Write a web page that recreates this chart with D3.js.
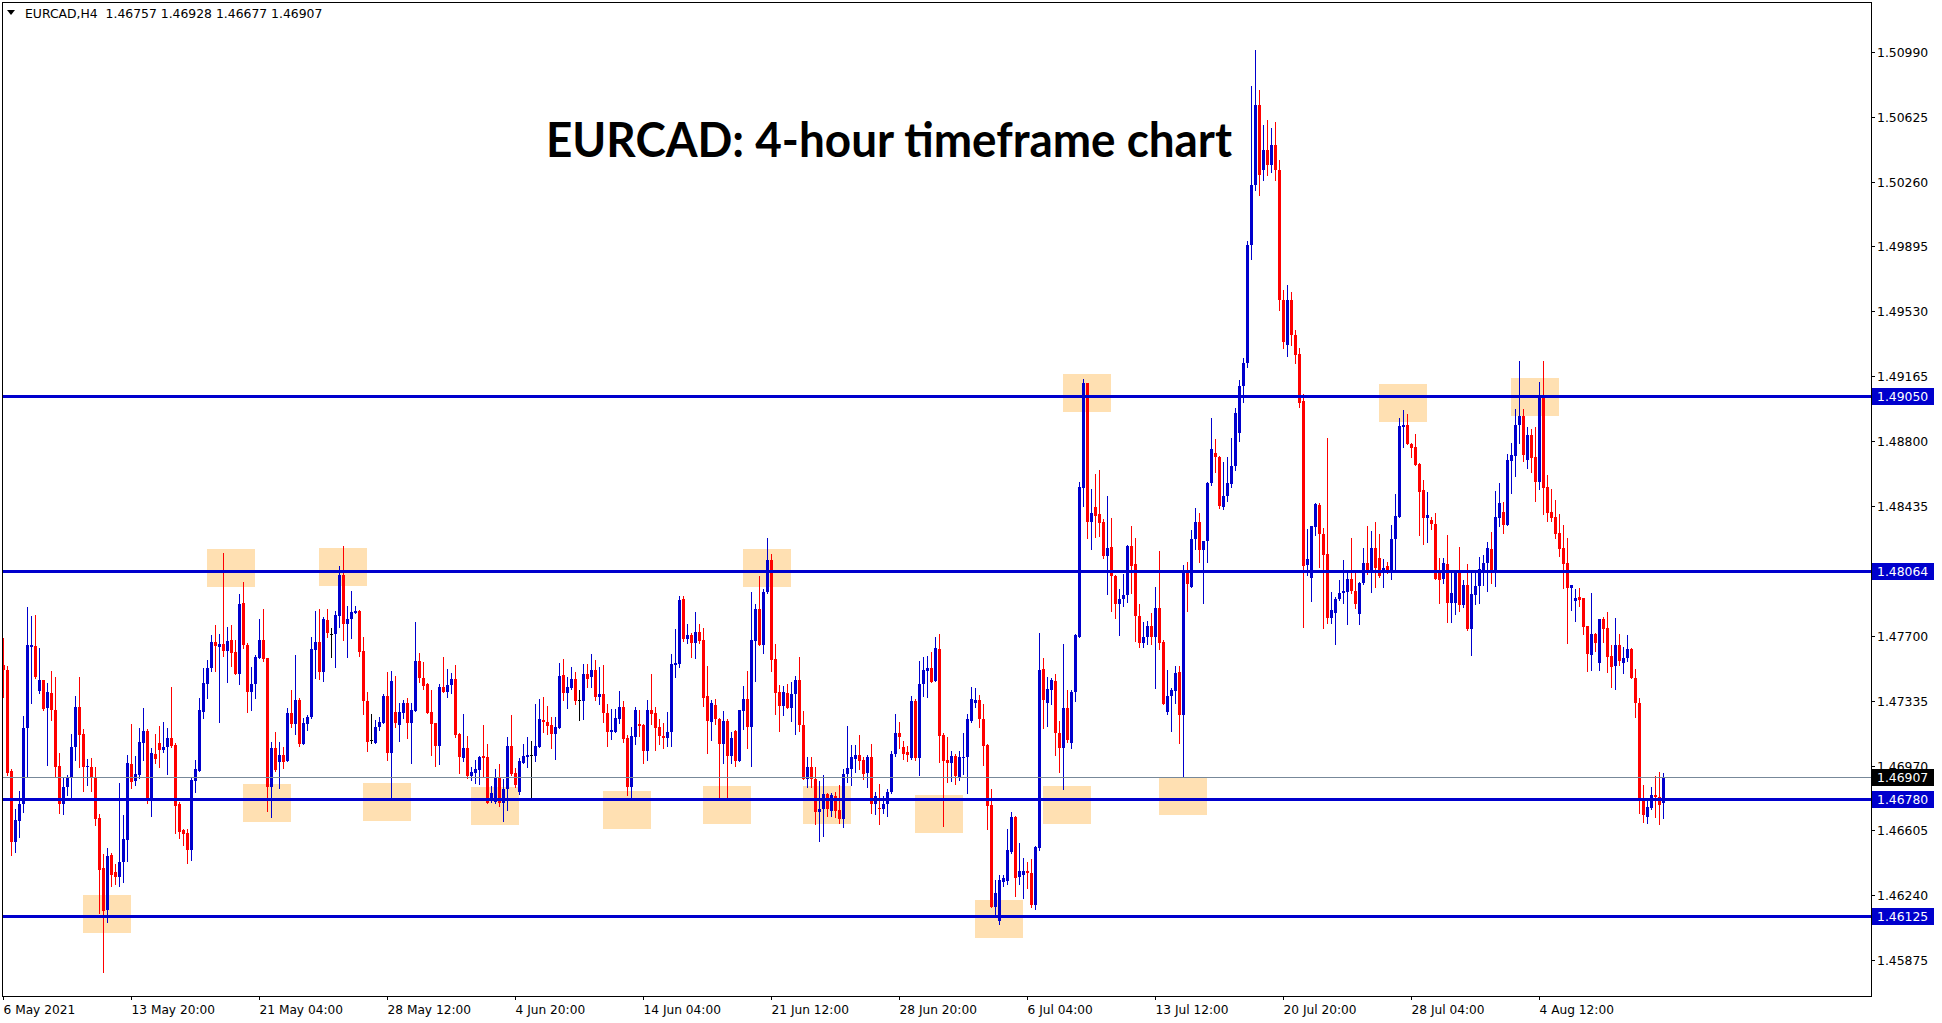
<!DOCTYPE html>
<html><head><meta charset="utf-8">
<script src="https://cdn.jsdelivr.net/npm/d3@7/dist/d3.min.js"></script>
<style>html,body{margin:0;padding:0;background:#fff;overflow:hidden}</style>
</head><body>
<svg id="chart" width="1942" height="1023"></svg>
<script>
// ---- DATA (EURCAD H4, 6 May 2021 12:00 onward) ----
const symbolInfo = "EURCAD,H4";
const lastBar = ["1.46757","1.46928","1.46677","1.46907"];
const titleText = "EURCAD: 4-hour timeframe chart";

const openP = [
1.47537,1.47508,1.46939,1.46541,1.46660,1.46753,1.47180,1.47636,1.47644,1.47390,
1.47452,1.47296,1.47379,1.47283,1.46968,1.46753,1.46847,1.46904,1.47073,1.47298,
1.47148,1.46960,1.46960,1.46898,1.46673,1.46391,1.46156,1.46466,1.46372,1.46344,
1.46429,1.46551,1.46977,1.46885,1.46917,1.47099,1.47163,1.46772,1.47035,1.47095,
1.47058,1.47073,1.47123,1.47086,1.46753,1.46607,1.46588,1.46494,1.46885,1.46941,
1.47274,1.47430,1.47518,1.47666,1.47640,1.47655,1.47617,1.47677,1.47612,1.47486,
1.47888,1.47649,1.47384,1.47430,1.47574,1.47677,1.47578,1.46851,1.47071,1.46992,
1.47030,1.46998,1.47268,1.47204,1.47339,1.47092,1.47204,1.47242,1.47621,1.47668,
1.47499,1.47790,1.47711,1.47711,1.47814,1.48044,1.47767,1.47794,1.47831,1.47841,
1.47615,1.47334,1.47114,1.47099,1.47185,1.47212,1.47364,1.47039,1.47274,1.47199,
1.47268,1.47321,1.47212,1.47279,1.47559,1.47465,1.47430,1.47274,1.47212,1.47082,
1.47413,1.47386,1.47424,1.47458,1.47148,1.47015,1.47067,1.46913,1.46930,1.46945,
1.47026,1.47020,1.46785,1.46763,1.46904,1.46757,1.46836,1.47080,1.46930,1.46823,
1.46986,1.47020,1.47030,1.47026,1.47076,1.47229,1.47215,1.47199,1.47148,1.47184,
1.47480,1.47377,1.47409,1.47458,1.47337,1.47336,1.47486,1.47467,1.47508,1.47358,
1.47373,1.47268,1.47161,1.47161,1.47232,1.47298,1.47127,1.46851,1.47132,1.47204,
1.47198,1.47054,1.47283,1.47268,1.47185,1.47136,1.47127,1.47157,1.47536,1.47542,
1.47908,1.47683,1.47705,1.47662,1.47720,1.47677,1.47362,1.47217,1.47311,1.47230,
1.47091,1.47221,1.47025,1.47164,1.46997,1.47279,1.47345,1.47185,1.47673,1.47855,
1.47649,1.47946,1.48128,1.47570,1.47382,1.47307,1.47377,1.47296,1.47373,1.47452,
1.47198,1.46892,1.46960,1.46892,1.46706,1.46723,1.46810,1.46716,1.46799,1.46720,
1.46669,1.46923,1.46951,1.47007,1.47030,1.47001,1.46926,1.47020,1.46752,1.46731,
1.46723,1.46752,1.46823,1.47035,1.47155,1.47076,1.47048,1.47015,1.47336,1.47015,
1.47428,1.47505,1.47522,1.47446,1.47627,1.47142,1.47001,1.46983,1.47024,1.46907,
1.47015,1.47016,1.47223,1.47324,1.47339,1.47232,1.47086,1.46748,1.46175,1.46096,
1.46316,1.46320,1.46485,1.46682,1.46340,1.46354,1.46376,1.46367,1.46185,1.46504,
1.47517,1.47320,1.47395,1.47449,1.47153,1.47072,1.47296,1.47099,1.47382,1.47697,
1.48533,1.49125,1.48344,1.48425,1.48387,1.48344,1.48150,1.48204,1.48037,1.47881,
1.47907,1.47929,1.48209,1.48104,1.47813,1.47660,1.47692,1.47759,1.47692,1.47859,
1.47665,1.47274,1.47363,1.47390,1.47495,1.47253,1.48069,1.47975,1.48244,1.48344,
1.48182,1.48236,1.48560,1.48729,1.48708,1.48425,1.48487,1.48554,1.48657,1.48845,
1.49107,1.49236,1.49903,1.50241,1.50691,1.50325,1.50438,1.50353,1.50466,1.50325,
1.49593,1.49339,1.49593,1.49396,1.49289,1.49024,1.48100,1.48025,1.48313,1.48438,
1.48275,1.48163,1.47804,1.47828,1.47907,1.47941,1.47950,1.48022,1.47954,1.47823,
1.48001,1.48110,1.48067,1.48196,1.48138,1.48067,1.48095,1.48072,1.48245,1.48373,
1.48880,1.48889,1.48782,1.48767,1.48671,1.48523,1.48367,1.48354,1.48332,1.48054,
1.48020,1.48106,1.47885,1.47885,1.48054,1.47875,1.47987,1.47739,1.47931,1.47982,
1.48072,1.48109,1.48190,1.48062,1.48367,1.48397,1.48325,1.48688,1.48716,1.48889,
1.48939,1.48691,1.48832,1.48706,1.48569,1.49043,1.48541,1.48397,1.48368,1.48282,
1.48198,1.48113,1.47972,1.47899,1.47921,1.47912,1.47756,1.47593,1.47711,1.47550,
1.47796,1.47743,1.47589,1.47533,1.47649,1.47550,1.47574,1.47627,1.47465,1.47324,
1.46772,1.46682,1.46729,1.46804,1.46791,1.46757];

const highP = [
1.47687,1.47531,1.46950,1.46723,1.46827,1.47249,1.47861,1.47813,1.47818,1.47634,
1.47455,1.47433,1.47503,1.47471,1.47039,1.46904,1.46917,1.47148,1.47362,1.47471,
1.47176,1.47005,1.47011,1.46960,1.46697,1.46472,1.46504,1.46476,1.46414,1.46870,
1.46692,1.47030,1.47204,1.47024,1.47180,1.47292,1.47178,1.47067,1.47146,1.47193,
1.47214,1.47184,1.47411,1.47095,1.46767,1.46611,1.46611,1.46904,1.47001,1.47349,
1.47521,1.47565,1.47705,1.47762,1.47711,1.48169,1.47752,1.47762,1.47677,1.47937,
1.48002,1.47658,1.47527,1.47593,1.47794,1.47852,1.47578,1.47101,1.47161,1.47101,
1.47076,1.47294,1.47396,1.47593,1.47352,1.47240,1.47255,1.47696,1.47841,1.47852,
1.47805,1.47850,1.47743,1.47841,1.48094,1.48207,1.47869,1.47953,1.47869,1.47846,
1.47696,1.47383,1.47260,1.47227,1.47245,1.47371,1.47495,1.47503,1.47476,1.47321,
1.47339,1.47353,1.47324,1.47777,1.47606,1.47555,1.47433,1.47396,1.47212,1.47430,
1.47582,1.47514,1.47490,1.47537,1.47155,1.47261,1.47138,1.46964,1.47001,1.47026,
1.47199,1.47092,1.46855,1.46949,1.46979,1.46892,1.47133,1.47255,1.46954,1.47011,
1.47090,1.47133,1.47110,1.47317,1.47343,1.47356,1.47306,1.47245,1.47242,1.47546,
1.47568,1.47471,1.47523,1.47495,1.47396,1.47542,1.47542,1.47598,1.47565,1.47523,
1.47537,1.47315,1.47289,1.47287,1.47390,1.47333,1.47142,1.47189,1.47298,1.47286,
1.47204,1.47339,1.47486,1.47298,1.47230,1.47211,1.47273,1.47598,1.47739,1.47925,
1.47925,1.47767,1.47715,1.47835,1.47767,1.47743,1.47532,1.47339,1.47345,1.47236,
1.47277,1.47230,1.47161,1.47170,1.47286,1.47418,1.47502,1.47949,1.47878,1.48038,
1.47964,1.48254,1.48162,1.47655,1.47424,1.47418,1.47427,1.47439,1.47476,1.47583,
1.47277,1.47020,1.47016,1.46963,1.46885,1.46917,1.46817,1.46817,1.46819,1.46861,
1.46949,1.47193,1.47086,1.47086,1.47142,1.47020,1.47030,1.47090,1.46823,1.46866,
1.46799,1.46838,1.47054,1.47261,1.47217,1.47110,1.47082,1.47362,1.47345,1.47559,
1.47583,1.47589,1.47608,1.47692,1.47711,1.47152,1.47133,1.47052,1.47035,1.47054,
1.47155,1.47261,1.47414,1.47409,1.47368,1.47317,1.47092,1.46838,1.46325,1.46354,
1.46354,1.46611,1.46707,1.46688,1.46532,1.46451,1.46425,1.46442,1.46519,1.47715,
1.47579,1.47471,1.47463,1.47484,1.47220,1.47657,1.47395,1.47395,1.47713,1.48568,
1.49147,1.49125,1.48527,1.48613,1.48635,1.48360,1.48487,1.48366,1.48042,1.47967,
1.48048,1.48212,1.48320,1.48250,1.47881,1.47778,1.47786,1.47832,1.47975,1.48177,
1.47678,1.47509,1.47409,1.47530,1.47530,1.48101,1.48118,1.48298,1.48419,1.48392,
1.48236,1.48568,1.48931,1.48810,1.48716,1.48681,1.48710,1.48818,1.48985,1.49142,
1.49268,1.49923,1.50798,1.51001,1.50776,1.50579,1.50607,1.50562,1.50596,1.50382,
1.49649,1.49677,1.49638,1.49424,1.49323,1.49063,1.48301,1.48320,1.48452,1.48448,
1.48307,1.48818,1.47950,1.47922,1.48016,1.48129,1.48072,1.48255,1.48054,1.48007,
1.48198,1.48320,1.48292,1.48345,1.48275,1.48134,1.48119,1.48326,1.48501,1.48927,
1.48974,1.48951,1.48786,1.48837,1.48677,1.48579,1.48514,1.48369,1.48395,1.48138,
1.48138,1.48270,1.48054,1.48072,1.48200,1.48015,1.48106,1.48057,1.48072,1.48147,
1.48156,1.48228,1.48288,1.48517,1.48560,1.48453,1.48723,1.48785,1.48977,1.49249,
1.48977,1.48875,1.48866,1.48875,1.49129,1.49249,1.48607,1.48526,1.48466,1.48387,
1.48325,1.48250,1.47987,1.47963,1.47972,1.47912,1.47756,1.47940,1.47719,1.47796,
1.47809,1.47837,1.47649,1.47799,1.47711,1.47640,1.47706,1.47634,1.47514,1.47353,
1.46861,1.46776,1.46847,1.46911,1.46932,1.46928];

const lowP = [
1.47358,1.46917,1.46466,1.46485,1.46566,1.46710,1.46904,1.47324,1.47461,1.47377,
1.47283,1.46973,1.47227,1.46907,1.46705,1.46697,1.46804,1.46780,1.47001,1.46964,
1.46827,1.46861,1.46829,1.46635,1.46138,1.45809,1.46091,1.46292,1.46303,1.46292,
1.46316,1.46432,1.46842,1.46861,1.46898,1.47001,1.46757,1.46686,1.46983,1.46964,
1.47048,1.46923,1.47073,1.46592,1.46560,1.46523,1.46419,1.46438,1.46823,1.46941,
1.47236,1.47349,1.47505,1.47503,1.47217,1.47587,1.47443,1.47531,1.47486,1.47430,
1.47630,1.47274,1.47283,1.47349,1.47574,1.47561,1.46714,1.46682,1.46941,1.46842,
1.46954,1.46998,1.47189,1.47148,1.47082,1.47092,1.47170,1.47236,1.47461,1.47458,
1.47448,1.47696,1.47583,1.47527,1.47752,1.47677,1.47583,1.47687,1.47828,1.47587,
1.47259,1.47054,1.47095,1.47095,1.47170,1.47208,1.47001,1.46789,1.47189,1.47110,
1.47240,1.47127,1.46986,1.47279,1.47443,1.47399,1.47264,1.47031,1.46969,1.46979,
1.47386,1.47358,1.47377,1.47133,1.46930,1.46998,1.46898,1.46889,1.46870,1.46864,
1.46913,1.46757,1.46763,1.46757,1.46744,1.46660,1.46720,1.46917,1.46851,1.46810,
1.46983,1.46964,1.46776,1.46998,1.47076,1.47161,1.47146,1.47071,1.47005,1.47184,
1.47339,1.47296,1.47399,1.47315,1.47227,1.47230,1.47414,1.47411,1.47339,1.47317,
1.47217,1.47082,1.47118,1.47161,1.47208,1.47104,1.46804,1.46779,1.47091,1.47136,
1.46982,1.47001,1.47204,1.47057,1.47091,1.47071,1.47080,1.47080,1.47470,1.47527,
1.47673,1.47658,1.47583,1.47574,1.47658,1.47307,1.47042,1.47114,1.47204,1.46789,
1.46982,1.46794,1.46982,1.46967,1.46997,1.47179,1.47071,1.46969,1.47446,1.47649,
1.47606,1.47940,1.47504,1.47260,1.47166,1.47255,1.47296,1.47223,1.47146,1.47166,
1.46892,1.46851,1.46851,1.46639,1.46547,1.46573,1.46688,1.46686,1.46682,1.46645,
1.46626,1.46879,1.46861,1.46936,1.46951,1.46892,1.46851,1.46705,1.46695,1.46639,
1.46705,1.46688,1.46817,1.47026,1.47071,1.47007,1.46998,1.47005,1.47001,1.46917,
1.47362,1.47358,1.47439,1.47446,1.46992,1.46631,1.46879,1.46885,1.46866,1.46889,
1.46923,1.46817,1.47217,1.47302,1.47189,1.46973,1.46611,1.46175,1.46128,1.46077,
1.46292,1.46303,1.46479,1.46237,1.46301,1.46226,1.46278,1.46175,1.46160,1.46494,
1.47180,1.47193,1.47315,1.47032,1.46932,1.46840,1.47104,1.47067,1.47336,1.47697,
1.48433,1.48252,1.48190,1.48258,1.48263,1.48137,1.47934,1.47840,1.47800,1.47705,
1.47867,1.47894,1.47940,1.47670,1.47638,1.47638,1.47657,1.47657,1.47409,1.47625,
1.47315,1.47261,1.47166,1.47320,1.47099,1.46910,1.47840,1.47975,1.48190,1.48115,
1.47886,1.48118,1.48549,1.48622,1.48419,1.48414,1.48460,1.48541,1.48635,1.48797,
1.49018,1.49214,1.49824,1.50213,1.50184,1.50269,1.50297,1.50314,1.50269,1.49537,
1.49323,1.49277,1.49339,1.49238,1.48990,1.47751,1.48044,1.47900,1.48270,1.48091,
1.47744,1.47776,1.47772,1.47654,1.47903,1.47885,1.47766,1.47941,1.47856,1.47768,
1.47994,1.48050,1.47950,1.47975,1.48031,1.47978,1.48054,1.48020,1.48072,1.48373,
1.48767,1.48780,1.48711,1.48664,1.48270,1.48219,1.48232,1.48303,1.48020,1.47885,
1.48001,1.47781,1.47781,1.47823,1.47843,1.47861,1.47734,1.47593,1.47880,1.47884,
1.47987,1.47955,1.48000,1.47982,1.48321,1.48282,1.48325,1.48507,1.48601,1.48789,
1.48688,1.48644,1.48622,1.48462,1.48528,1.48387,1.48348,1.48350,1.48250,1.48151,
1.47972,1.47662,1.47846,1.47786,1.47869,1.47709,1.47505,1.47508,1.47617,1.47508,
1.47664,1.47499,1.47414,1.47401,1.47537,1.47493,1.47561,1.47461,1.47245,1.46701,
1.46654,1.46645,1.46724,1.46682,1.46641,1.46677];

const closeP = [
1.47508,1.46926,1.46541,1.46663,1.46753,1.47180,1.47649,1.47649,1.47471,1.47452,
1.47289,1.47383,1.47281,1.46964,1.46753,1.46847,1.46904,1.47073,1.47298,1.47142,
1.46964,1.46968,1.46898,1.46667,1.46382,1.46153,1.46461,1.46354,1.46340,1.46429,
1.46554,1.46983,1.46879,1.46923,1.47105,1.47163,1.46772,1.47039,1.47005,1.47058,
1.47073,1.47123,1.47080,1.46742,1.46598,1.46584,1.46494,1.46889,1.46949,1.47283,
1.47433,1.47518,1.47666,1.47644,1.47655,1.47617,1.47672,1.47606,1.47486,1.47880,
1.47649,1.47384,1.47430,1.47580,1.47677,1.47568,1.46851,1.47067,1.46945,1.47030,
1.46992,1.47268,1.47204,1.47339,1.47092,1.47208,1.47242,1.47625,1.47668,1.47499,
1.47794,1.47715,1.47711,1.47818,1.48044,1.47767,1.47794,1.47837,1.47841,1.47612,
1.47336,1.47105,1.47114,1.47185,1.47214,1.47364,1.47039,1.47446,1.47212,1.47274,
1.47321,1.47212,1.47283,1.47559,1.47465,1.47418,1.47268,1.47204,1.47082,1.47413,
1.47386,1.47424,1.47458,1.47142,1.47020,1.47067,1.46913,1.46936,1.46951,1.47020,
1.47015,1.46757,1.46814,1.46904,1.46757,1.46836,1.47080,1.46923,1.46861,1.46996,
1.47026,1.47031,1.47030,1.47082,1.47232,1.47217,1.47195,1.47148,1.47189,1.47475,
1.47381,1.47413,1.47458,1.47336,1.47337,1.47486,1.47458,1.47508,1.47354,1.47373,
1.47268,1.47161,1.47170,1.47240,1.47298,1.47119,1.46851,1.47136,1.47283,1.47194,
1.47054,1.47283,1.47260,1.47183,1.47136,1.47123,1.47157,1.47542,1.47549,1.47902,
1.47683,1.47705,1.47662,1.47720,1.47673,1.47352,1.47221,1.47320,1.47230,1.47091,
1.47221,1.47025,1.47127,1.46997,1.47283,1.47345,1.47185,1.47677,1.47855,1.47649,
1.47949,1.48128,1.47564,1.47380,1.47307,1.47382,1.47296,1.47373,1.47452,1.47198,
1.46892,1.46960,1.46892,1.46710,1.46723,1.46809,1.46725,1.46804,1.46716,1.46669,
1.46923,1.46954,1.47020,1.47030,1.46998,1.46923,1.47020,1.46752,1.46799,1.46725,
1.46752,1.46823,1.47035,1.47155,1.47133,1.47035,1.47030,1.47336,1.47015,1.47430,
1.47508,1.47522,1.47443,1.47634,1.47138,1.46998,1.46986,1.47024,1.46913,1.47016,
1.47020,1.47232,1.47345,1.47339,1.47230,1.47080,1.46742,1.46175,1.46250,1.46325,
1.46339,1.46494,1.46682,1.46339,1.46376,1.46376,1.46367,1.46185,1.46509,1.47508,
1.47342,1.47401,1.47455,1.47153,1.47072,1.47296,1.47113,1.47382,1.47705,1.48541,
1.49125,1.48344,1.48392,1.48379,1.48339,1.48150,1.48198,1.48037,1.47881,1.47907,
1.47929,1.48209,1.48096,1.47813,1.47660,1.47697,1.47759,1.47692,1.47859,1.47660,
1.47315,1.47360,1.47395,1.47490,1.47253,1.48069,1.47994,1.48244,1.48344,1.48182,
1.48236,1.48560,1.48756,1.48708,1.48433,1.48487,1.48560,1.48657,1.48958,1.49107,
1.49236,1.49901,1.50241,1.50691,1.50297,1.50438,1.50353,1.50466,1.50325,1.49593,
1.49356,1.49593,1.49396,1.49283,1.49013,1.48094,1.48132,1.48320,1.48442,1.48273,
1.48157,1.47804,1.47847,1.47907,1.47945,1.47956,1.48022,1.47954,1.47879,1.48001,
1.48110,1.48067,1.48196,1.48086,1.48040,1.48086,1.48072,1.48247,1.48377,1.48884,
1.48889,1.48780,1.48762,1.48664,1.48514,1.48367,1.48382,1.48330,1.48020,1.48016,
1.48114,1.47885,1.47941,1.48057,1.47875,1.47987,1.47739,1.47937,1.47982,1.48077,
1.48113,1.48198,1.48062,1.48372,1.48447,1.48325,1.48691,1.48720,1.48889,1.48939,
1.48720,1.48832,1.48701,1.48569,1.49043,1.48536,1.48395,1.48367,1.48275,1.48190,
1.48106,1.47972,1.47987,1.47916,1.47903,1.47752,1.47598,1.47711,1.47659,1.47796,
1.47739,1.47580,1.47527,1.47649,1.47561,1.47574,1.47625,1.47465,1.47324,1.46776,
1.46692,1.46735,1.46804,1.46795,1.46748,1.46907];

const levelPrices = [1.49050, 1.48064, 1.46780, 1.46125];
const levelLabels = ["1.49050", "1.48064", "1.46780", "1.46125"];
const bidPrice = 1.46907;
const bidLabel = "1.46907";

const yTickValues = [1.50990,1.50625,1.50260,1.49895,1.49530,1.49165,1.48800,1.48435,1.47700,1.47335,1.46970,1.46605,1.46240,1.45875];
const yTickLabels = ["1.50990","1.50625","1.50260","1.49895","1.49530","1.49165","1.48800","1.48435","1.47700","1.47335","1.46970","1.46605","1.46240","1.45875"];

const xTickIndex = [0,32,64,96,128,160,192,224,256,288,320,352,384];
const xTickLabels = ["6 May 2021","13 May 20:00","21 May 04:00","28 May 12:00","4 Jun 20:00","14 Jun 04:00","21 Jun 12:00","28 Jun 20:00","6 Jul 04:00","13 Jul 12:00","20 Jul 20:00","28 Jul 04:00","4 Aug 12:00"];

// highlighted zones: [fromBar, toBar, priceTop, priceBottom]
const zoneFrom = [51,79,20,60,90,117,150,175,185,200,228,243,260,289,265,344,377];
const zoneTo   = [63,91,32,72,102,129,162,187,197,212,240,255,272,301,277,356,389];
const zoneTop  = [1.48190,1.48196,1.46241,1.46866,1.46872,1.46849,1.46827,1.46855,1.48190,1.46855,1.46804,1.46213,1.46855,1.46906,1.49176,1.49120,1.49153];
const zoneBot  = [1.47976,1.47982,1.46027,1.46652,1.46658,1.46635,1.46613,1.46641,1.47976,1.46641,1.46590,1.45999,1.46641,1.46692,1.48962,1.48906,1.48939];

// ---- DRAWING ----
const svg = d3.select("#chart");
const L = 2, R = 1871, T = 2, B = 996;
const n = Math.min(openP.length, highP.length, lowP.length, closeP.length);

const x = d3.scaleLinear().domain([0, 1]).range([3, 7]);          // bar index -> px
const y = d3.scaleLinear().domain([1.45672, 1.51272]).range([B, T]);

const BULL = "#0000CD", BEAR = "#FF0000", LEVEL = "#0000CD";
const axisFont = "DejaVu Sans, Verdana, sans-serif";

svg.append("rect").attr("width",1942).attr("height",1023).attr("fill","#fff");
svg.append("defs").append("clipPath").attr("id","plotclip")
  .append("rect").attr("x",L+1).attr("y",T+1).attr("width",R-L-1).attr("height",B-T-1);

const plot = svg.append("g").attr("clip-path","url(#plotclip)").attr("shape-rendering","crispEdges");

// zones
const zones = zoneFrom.map((f,k)=>({f, t:zoneTo[k], top:zoneTop[k], bot:zoneBot[k]}));
plot.append("g").selectAll("rect").data(zones).join("rect")
  .attr("x", d=>x(d.f)).attr("width", d=>x(d.t)-x(d.f))
  .attr("y", d=>Math.round(y(d.top))).attr("height", d=>Math.round(y(d.bot))-Math.round(y(d.top)))
  .attr("fill","#FFE0B2");

// candles
const bars = d3.range(n).map(i=>({i,o:openP[i],h:highP[i],l:lowP[i],c:closeP[i]}));
const col = d => d.c > d.o ? BULL : (d.c < d.o ? BEAR : "#000");
const cg = plot.append("g");
cg.selectAll("rect.w").data(bars).join("rect").attr("class","w")
  .attr("x", d=>Math.round(x(d.i)))
  .attr("width",1)
  .attr("y", d=>Math.round(y(Math.max(d.h,d.o,d.c))))
  .attr("height", d=>Math.max(1, Math.round(y(Math.min(d.l,d.o,d.c))) - Math.round(y(Math.max(d.h,d.o,d.c)))+1))
  .attr("fill", col);
cg.selectAll("rect.b").data(bars).join("rect").attr("class","b")
  .attr("x", d=>Math.round(x(d.i))-1)
  .attr("width",3)
  .attr("y", d=>Math.round(y(Math.max(d.o,d.c))))
  .attr("height", d=>Math.max(1, Math.round(y(Math.min(d.o,d.c))) - Math.round(y(Math.max(d.o,d.c)))))
  .attr("fill", col);

// bid line
plot.append("line").attr("x1",L).attr("x2",R).attr("y1",Math.round(y(bidPrice))+0.5).attr("y2",Math.round(y(bidPrice))+0.5)
  .attr("stroke","#778899").attr("stroke-width",1);

// levels
plot.append("g").selectAll("line").data(levelPrices).join("line")
  .attr("x1",L).attr("x2",R)
  .attr("y1",d=>Math.round(y(d))+0.5).attr("y2",d=>Math.round(y(d))+0.5)
  .attr("stroke",LEVEL).attr("stroke-width",3);

// frame
svg.append("rect").attr("x",L+0.5).attr("y",T+0.5).attr("width",R-L).attr("height",B-T)
  .attr("fill","none").attr("stroke","#000").attr("stroke-width",1).attr("shape-rendering","crispEdges");

// y axis ticks + labels
const ya = svg.append("g").attr("font-family",axisFont).attr("font-size","12.4px").attr("fill","#000");
yTickValues.forEach((v,k)=>{
  const yy = Math.round(y(v))+0.5;
  ya.append("line").attr("x1",R).attr("x2",R+4).attr("y1",yy).attr("y2",yy).attr("stroke","#000").attr("shape-rendering","crispEdges");
  ya.append("text").attr("x",R+6).attr("y",yy+4.5).text(yTickLabels[k]);
});
// level tags
levelPrices.forEach((v,k)=>{
  const yy = Math.round(y(v));
  ya.append("rect").attr("x",R+1).attr("y",yy-8).attr("width",62).attr("height",17).attr("fill",LEVEL).attr("shape-rendering","crispEdges");
  ya.append("text").attr("x",R+6).attr("y",yy+5).attr("fill","#fff").text(levelLabels[k]);
});
{
  const yy = Math.round(y(bidPrice));
  ya.append("rect").attr("x",R+1).attr("y",yy-8).attr("width",62).attr("height",17).attr("fill","#000").attr("shape-rendering","crispEdges");
  ya.append("text").attr("x",R+6).attr("y",yy+5).attr("fill","#fff").text(bidLabel);
}

// x axis ticks + labels
const xa = svg.append("g").attr("font-family",axisFont).attr("font-size","12.2px").attr("fill","#000");
xTickIndex.forEach((b,k)=>{
  const xx = Math.round(x(b))+0.5;
  xa.append("line").attr("x1",xx).attr("x2",xx).attr("y1",B).attr("y2",B+4).attr("stroke","#000").attr("shape-rendering","crispEdges");
  xa.append("text").attr("x",xx).attr("y",1014).text(xTickLabels[k]);
});

// header
svg.append("path").attr("d","M7,10 L15,10 L11,15 Z").attr("fill","#000");
svg.append("text").attr("x",25).attr("y",18).attr("font-family",axisFont).attr("font-size","12.4px")
  .style("white-space","pre").attr("xml:space","preserve")
  .text(symbolInfo + "  " + lastBar.join(" "));

// title
svg.append("text").attr("x",546).attr("y",157)
  .attr("font-family","Lato, 'Open Sans', sans-serif").attr("font-weight","bold").attr("font-size","48px")
  .attr("textLength",686).attr("lengthAdjust","spacingAndGlyphs").attr("fill","#000")
  .text(titleText);
</script>
</body></html>
